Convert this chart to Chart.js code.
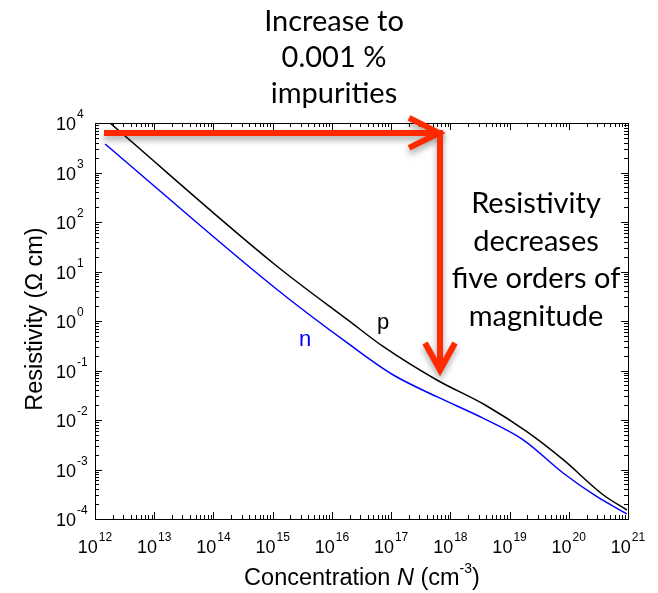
<!DOCTYPE html>
<html>
<head>
<meta charset="utf-8">
<script src="https://cdn.jsdelivr.net/npm/chart.js@4.4.1/dist/chart.umd.min.js"></script>
<style>
  html, body { margin: 0; padding: 0; background: #fff; }
  #resistividad { display: block; }
</style>
</head>
<body>
<canvas id="resistividad" width="658" height="593"></canvas>
<script>
// Datos (concentración en cm^-3, resistividad en ohm cm)
const concentracionP = [1.79e12, 1.1e15, 2.03e16, 7.41e16, 5.92e17, 3.87e18, 1.96e19, 8.13e19, 3.85e20, 9.57e20];
const resistividadP = [1.0e4, 13.7, 0.968, 0.303, 0.0643, 0.0201, 0.0058, 0.00156, 3.05e-4, 1.52e-4];
const concentracionN = [1.48e12, 1.1e15, 2.03e16, 1.09e17, 5.92e17, 3.62e18, 1.72e19, 8.13e19, 2.99e20, 9.57e20];
const resistividadN = [3770, 4.64, 0.328, 0.0811, 0.0296, 0.0108, 0.00394, 8.4e-4, 2.82e-4, 1.27e-4];

// Etiquetas de los ejes: 10 elevado a estos exponentes
const exponentesX = [12, 13, 14, 15, 16, 17, 18, 19, 20, 21];
const exponentesY = [-4, -3, -2, -1, 0, 1, 2, 3, 4];

// Flecha roja (en unidades de los datos)
const flechaInicioX = 1.42e12;
const flechaEsquinaX = 6.7e17;
const flechaNivelY = 6300;
const flechaFinY = 0.093;

const textoIzquierda = ["Increase to", "0.001 %", "impurities"];
const textoDerecha = ["Resistivity", "decreases", "five orders of", "magnitude"];

const rojo = "#ff2a00";
const azul = "#0000ff";
const fuenteEje = "Liberation Sans, Arial, sans-serif";
const fuenteNota = "Lato, Open Sans, sans-serif";

// Construyo los puntos {x, y}
let puntosP = [];
let puntosN = [];
concentracionP.forEach((c, i) => puntosP.push({ x: c, y: resistividadP[i] }));
concentracionN.forEach((c, i) => puntosN.push({ x: c, y: resistividadN[i] }));

// Marcas 1..9 de cada década
function marcasLog(scale, desde, hasta) {
  let ticks = [];
  for (let e = desde; e <= hasta; e++) {
    for (let m = 1; m <= 9; m++) {
      if (e === hasta && m > 1) break;
      ticks.push({ value: m * Math.pow(10, e), mayor: m === 1 });
    }
  }
  scale.ticks = ticks;
}

function potencia(ctx, exp, x, y, alinear) {
  // dibuja "10" con el exponente arriba
  ctx.font = "18px " + fuenteEje;
  const wBase = ctx.measureText("10").width;
  ctx.font = "12px " + fuenteEje;
  const wExp = ctx.measureText(String(exp)).width;
  let inicio = alinear === "centro" ? x - (wBase + wExp + 1) / 2 : x - wBase;
  ctx.textAlign = "left";
  ctx.textBaseline = "alphabetic";
  ctx.font = "18px " + fuenteEje;
  ctx.fillText("10", inicio, y);
  ctx.font = "12px " + fuenteEje;
  ctx.fillText(String(exp), inicio + wBase + 1, y - 12);
}

const decorado = {
  id: "decorado",
  afterDraw(chart) {
    const { ctx, chartArea: a, scales } = chart;
    const x = scales.x;
    const y = scales.y;
    ctx.save();
    ctx.fillStyle = "#000";
    ctx.strokeStyle = "#000";
    ctx.lineWidth = 1;
    // caja
    ctx.strokeRect(Math.round(a.left) + 0.5, Math.round(a.top) + 0.5, Math.round(a.right - a.left), Math.round(a.bottom - a.top));
    // marcas hacia adentro
    ctx.beginPath();
    x.ticks.forEach((t) => {
      const px = Math.round(x.getPixelForValue(t.value)) + 0.5;
      const largo = t.mayor ? 7 : 4;
      ctx.moveTo(px, a.bottom);
      ctx.lineTo(px, a.bottom - largo);
      ctx.moveTo(px, a.top);
      ctx.lineTo(px, a.top + largo);
    });
    y.ticks.forEach((t) => {
      const py = Math.round(y.getPixelForValue(t.value)) + 0.5;
      const largo = t.mayor ? 7 : 4;
      ctx.moveTo(a.left, py);
      ctx.lineTo(a.left + largo, py);
      ctx.moveTo(a.right, py);
      ctx.lineTo(a.right - largo, py);
    });
    ctx.stroke();

    // etiquetas
    exponentesX.forEach((e) => potencia(ctx, e, x.getPixelForValue(Math.pow(10, e)), 553, "centro"));
    exponentesY.forEach((e) => potencia(ctx, e, 76, y.getPixelForValue(Math.pow(10, e)) + 7, "derecha"));

    // título eje x
    ctx.textAlign = "left";
    const partes = [
      { t: "Concentration ", f: "23.5px " + fuenteEje, dy: 0 },
      { t: "N", f: "italic 23.5px " + fuenteEje, dy: 0 },
      { t: " (cm", f: "23.5px " + fuenteEje, dy: 0 },
      { t: "-3", f: "14px " + fuenteEje, dy: -12 },
      { t: ")", f: "23.5px " + fuenteEje, dy: 0 },
    ];
    let total = 0;
    partes.forEach((p) => {
      ctx.font = p.f;
      p.w = ctx.measureText(p.t).width;
      total += p.w;
    });
    let cx = 362 - total / 2;
    partes.forEach((p) => {
      ctx.font = p.f;
      ctx.fillText(p.t, cx, 585 + p.dy);
      cx += p.w;
    });

    // título eje y
    ctx.save();
    ctx.translate(42, 319);
    ctx.rotate(-Math.PI / 2);
    ctx.textAlign = "center";
    ctx.font = "23.5px " + fuenteEje;
    ctx.fillText("Resistivity (\u03A9 cm)", 0, 0);
    ctx.restore();

    // p y n
    ctx.font = "22px " + fuenteEje;
    ctx.textAlign = "center";
    ctx.fillText("p", 383, 329);
    ctx.fillStyle = azul;
    ctx.fillText("n", 305, 346);

    // flecha roja
    const x0 = x.getPixelForValue(flechaInicioX);
    const xc = x.getPixelForValue(flechaEsquinaX);
    const yh = y.getPixelForValue(flechaNivelY);
    const yt = y.getPixelForValue(flechaFinY);
    ctx.strokeStyle = rojo;
    ctx.lineWidth = 6;
    ctx.shadowColor = "rgba(0,0,0,0.35)";
    ctx.shadowBlur = 6;
    ctx.shadowOffsetY = 4;
    ctx.lineJoin = "miter";
    ctx.beginPath();
    ctx.moveTo(x0, yh);
    ctx.lineTo(xc + 3, yh);
    ctx.moveTo(xc - 31, yh - 15);
    ctx.lineTo(xc - 1, yh);
    ctx.lineTo(xc - 31, yh + 15);
    ctx.stroke();
    ctx.beginPath();
    ctx.moveTo(xc, yh - 3);
    ctx.lineTo(xc, yt - 4);
    ctx.moveTo(xc - 15, yt - 29);
    ctx.lineTo(xc, yt - 2);
    ctx.lineTo(xc + 15, yt - 29);
    ctx.stroke();
    ctx.shadowColor = "transparent";

    // textos
    ctx.fillStyle = "#000";
    ctx.font = "29px " + fuenteNota;
    ctx.textAlign = "center";
    textoIzquierda.forEach((t, i) => ctx.fillText(t, 334, 31 + i * 36));
    textoDerecha.forEach((t, i) => ctx.fillText(t, 536, 213 + i * 37.5));
    ctx.restore();
  },
};

new Chart(document.getElementById("resistividad"), {
  type: "line",
  data: {
    datasets: [
      {
        label: "p",
        data: puntosP,
        borderColor: "#000",
        borderWidth: 1.5,
        pointRadius: 0,
        cubicInterpolationMode: "monotone",
      },
      {
        label: "n",
        data: puntosN,
        borderColor: azul,
        borderWidth: 1.5,
        pointRadius: 0,
        cubicInterpolationMode: "monotone",
      },
    ],
  },
  options: {
    responsive: false,
    animation: false,
    events: [],
    layout: {
      padding: { left: 0, top: 123, right: 30, bottom: 0 },
    },
    plugins: {
      legend: { display: false },
      tooltip: { enabled: false },
    },
    scales: {
      x: {
        type: "logarithmic",
        min: 1e12,
        max: 1e21,
        grid: { display: false },
        border: { display: false },
        ticks: { display: false },
        afterBuildTicks: (s) => marcasLog(s, 12, 21),
        afterFit: (s) => {
          s.height = 74;
        },
      },
      y: {
        type: "logarithmic",
        min: 1e-4,
        max: 1e4,
        grid: { display: false },
        border: { display: false },
        ticks: { display: false },
        afterBuildTicks: (s) => marcasLog(s, -4, 4),
        afterFit: (s) => {
          s.width = 95;
        },
      },
    },
  },
  plugins: [decorado],
});
</script>
</body>
</html>
